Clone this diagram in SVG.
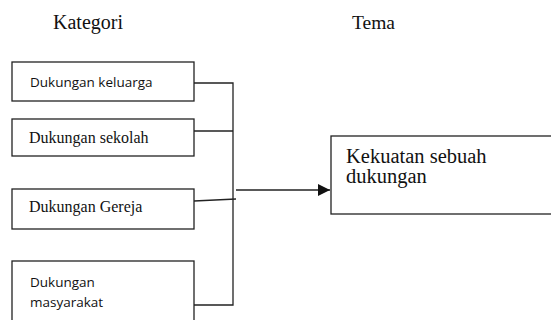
<svg xmlns="http://www.w3.org/2000/svg" width="551" height="320" viewBox="0 0 551 320">
<style>
.box{fill:#fff;stroke:#222;stroke-width:1.3}
.ln{fill:none;stroke:#222;stroke-width:1.3}
.serif{font-family:"Liberation Serif",serif;fill:#111}
.sans{font-family:"Open Sans","Noto Sans",sans-serif;fill:#111}
</style>
<defs>
<marker id="ah" viewBox="0 0 10 10" refX="10" refY="5" markerWidth="12" markerHeight="12" markerUnits="userSpaceOnUse" orient="auto">
<path d="M0,0 L10,5 L0,10 z" fill="#111"/>
</marker>
</defs>
<text class="serif" x="53" y="29" font-size="20">Kategori</text>
<text class="serif" x="352" y="29" font-size="19.5">Tema</text>
<g id="connectors">
<path class="ln" d="M194,83 H233 V305 H194"/>
<path class="ln" d="M194,131 H233"/>
<path class="ln" d="M194,201 L236,199"/>
<path class="ln" d="M236,190 H330" marker-end="url(#ah)"/>
</g>
<g id="n1">
<rect class="box" x="12" y="62" width="182" height="39"/>
<text class="sans" x="30" y="87" font-size="13.5">Dukungan keluarga</text>
</g>
<g id="n2">
<rect class="box" x="12" y="119" width="182" height="37"/>
<text class="serif" x="29" y="143" font-size="16">Dukungan sekolah</text>
</g>
<g id="n3">
<rect class="box" x="12" y="189" width="182" height="40"/>
<text class="serif" x="29" y="212" font-size="16">Dukungan Gereja</text>
</g>
<g id="n4">
<rect class="box" x="12" y="261" width="182" height="70"/>
<text class="sans" x="30" y="287" font-size="13.5">Dukungan</text>
<text class="sans" x="30" y="307" font-size="13.5">masyarakat</text>
</g>
<g id="n5">
<rect class="box" x="331" y="136" width="240" height="78"/>
<text class="serif" x="346" y="163" font-size="20.5">Kekuatan sebuah</text>
<text class="serif" x="346" y="183" font-size="20.5">dukungan</text>
</g>
</svg>
